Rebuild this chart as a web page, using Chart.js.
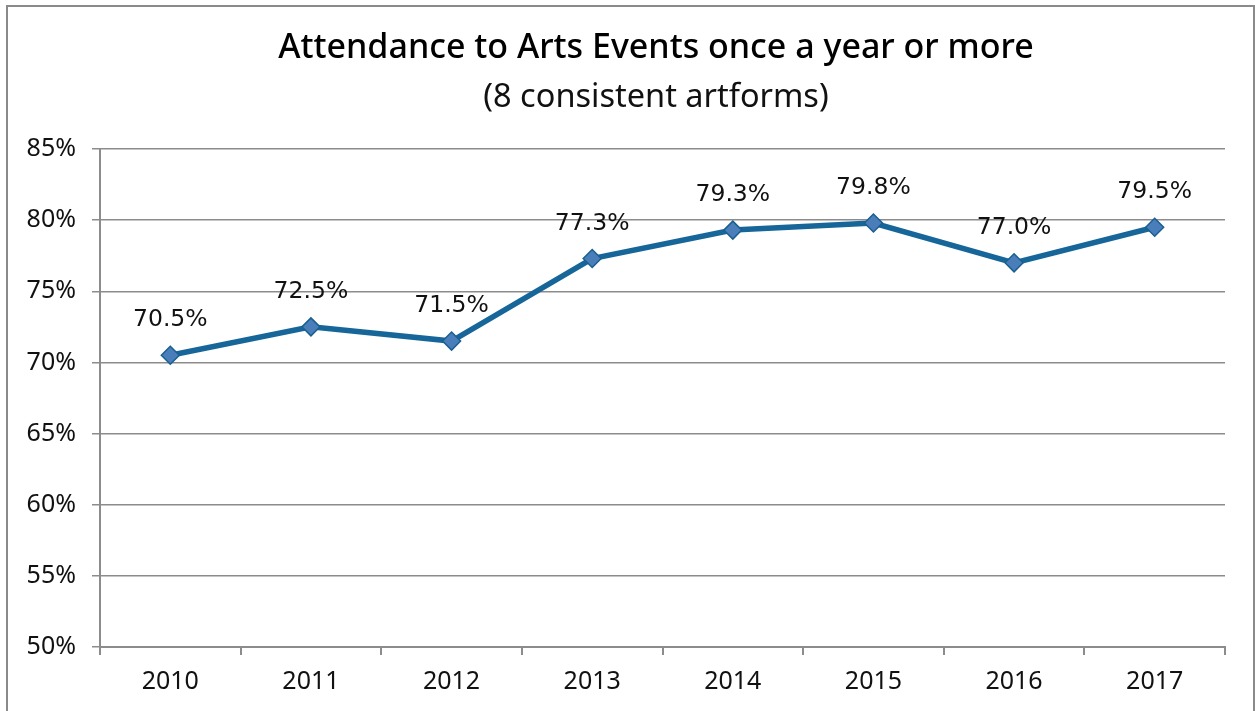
<!DOCTYPE html>
<html lang="en">
<head>
<meta charset="UTF-8">
<title>Attendance to Arts Events</title>
<script src="https://cdn.jsdelivr.net/npm/chart.js"></script>
<style>
    html, body { margin: 0; padding: 0; background: #fff; }
    #wrap { width: 1255px; height: 711px; position: relative; }
</style>
</head>
<body>
<div id="wrap"><canvas id="attendChart" width="1255" height="711"></canvas></div>
<script>
// attendance share per year (%)
const years = ['2010', '2011', '2012', '2013', '2014', '2015', '2016', '2017'];
const attendance = [70.5, 72.5, 71.5, 77.3, 79.3, 79.8, 77.0, 79.5];
const yTicks = [50, 55, 60, 65, 70, 75, 80, 85];

const chartTitle = 'Attendance to Arts Events once a year or more';
const chartSubtitle = '(8 consistent artforms)';

const gridGrey = '#8c8c8c';
const tickFont = { family: 'Noto Sans', size: 25 };

// outer frame round the whole chart (bottom edge runs off the page)
const framePlugin = {
    id: 'frame',
    beforeDraw(chart) {
        const c = chart.ctx;
        c.save();
        c.strokeStyle = '#8a8a8a';
        c.lineWidth = 2;
        c.strokeRect(7, 6, 1247, 720);
        c.restore();
    }
};

// two-line heading, centred a little right of the canvas middle
const headingPlugin = {
    id: 'heading',
    afterDraw(chart) {
        const c = chart.ctx;
        c.save();
        c.fillStyle = '#000';
        c.textAlign = 'center';
        c.textBaseline = 'alphabetic';
        c.font = '500 34px "Noto Sans"';
        c.fillText(chartTitle, 656, 58);
        c.fillStyle = '#111';
        c.font = '32.5px "Noto Sans"';
        c.fillText(chartSubtitle, 656, 107);
        c.restore();
    }
};

// value labels above each point
const valueLabels = {
    id: 'valueLabels',
    afterDatasetsDraw(chart) {
        const c = chart.ctx;
        const meta = chart.getDatasetMeta(0);
        c.save();
        c.font = '23.5px "DejaVu Sans"';
        c.fillStyle = '#111';
        c.textAlign = 'center';
        c.textBaseline = 'middle';
        meta.data.forEach((pt, i) => {
            c.fillText(attendance[i].toFixed(1) + '%', pt.x, pt.y - 35);
        });
        c.restore();
    }
};

new Chart(document.getElementById('attendChart'), {
    type: 'line',
    data: {
        labels: years,
        datasets: [{
            data: attendance,
            borderColor: '#17669a',
            borderWidth: 5.5,
            backgroundColor: '#4a7ebb',
            pointStyle: 'rectRot',
            pointRadius: 9,
            pointBackgroundColor: '#4a7ebb',
            pointBorderColor: '#1a5f8f',
            pointBorderWidth: 1.5,
            tension: 0
        }]
    },
    options: {
        responsive: false,
        animation: false,
        layout: { padding: { left: 0, right: 30, top: 149, bottom: 0 } },
        plugins: {
            legend: { display: false },
            tooltip: { enabled: false },
            title: { display: false }
        },
        scales: {
            x: {
                offset: true,
                grid: {
                    offset: true,
                    drawOnChartArea: false,
                    drawTicks: true,
                    tickLength: 8,
                    color: gridGrey,
                    lineWidth: 2
                },
                border: { color: gridGrey, width: 2 },
                ticks: { color: '#111', font: tickFont, padding: 12 },
                afterFit(scale) { scale.height = 64; }
            },
            y: {
                min: 50,
                max: 85,
                afterBuildTicks(scale) {
                    scale.ticks = yTicks.map(v => ({ value: v }));
                },
                grid: {
                    color: gridGrey,
                    lineWidth: 1.5,
                    drawTicks: true,
                    tickLength: 8
                },
                border: { color: gridGrey, width: 2 },
                ticks: {
                    color: '#111',
                    font: tickFont,
                    padding: 16,
                    callback: v => v + '%'
                },
                afterFit(scale) { scale.width = 100; }
            }
        }
    },
    plugins: [framePlugin, headingPlugin, valueLabels]
});
</script>
</body>
</html>
